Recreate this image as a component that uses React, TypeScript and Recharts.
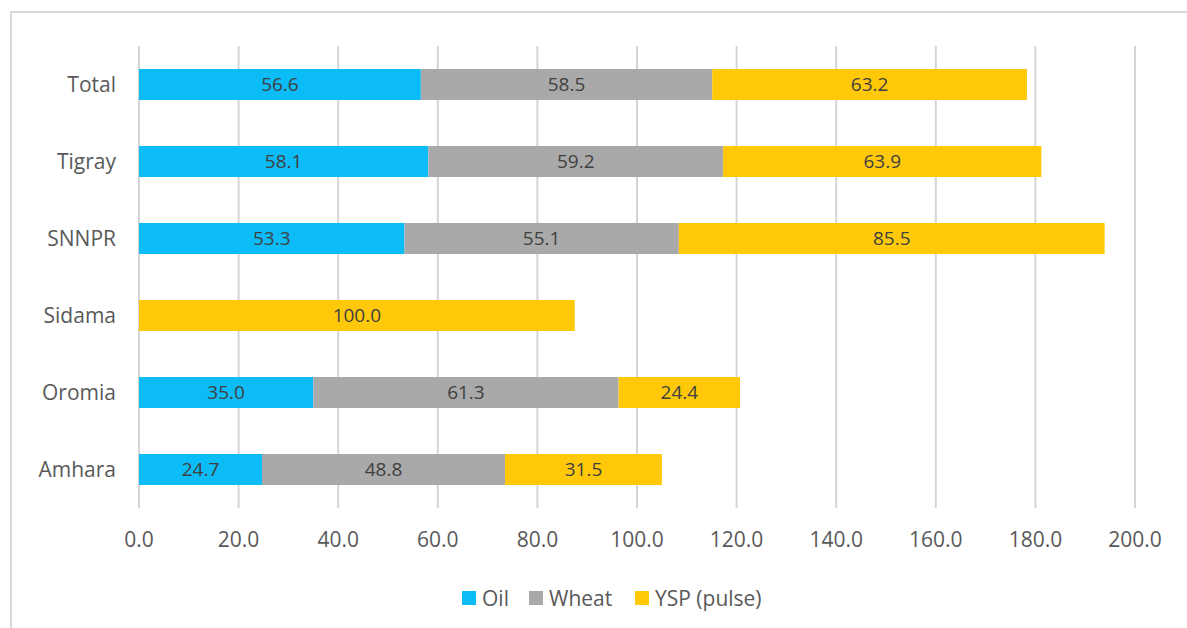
import React from 'react';
import { BarChart, Bar, XAxis, YAxis, CartesianGrid, LabelList } from 'recharts';

const regions = ['Total', 'Tigray', 'SNNPR', 'Sidama', 'Oromia', 'Amhara'];
const oilValues = [56.6, 58.1, 53.3, null, 35.0, 24.7];
const wheatValues = [58.5, 59.2, 55.1, null, 61.3, 48.8];
const yspValues = [63.2, 63.9, 85.5, 87.5, 24.4, 31.5];
// the Sidama bar is drawn shorter than the value printed on it
const yspLabels = ['63.2', '63.9', '85.5', '100.0', '24.4', '31.5'];
const xTicks = [0, 20, 40, 60, 80, 100, 120, 140, 160, 180, 200];

const series = [
  { key: 'oil', name: 'Oil', color: '#0cbcf6' },
  { key: 'wheat', name: 'Wheat', color: '#a9a9a9' },
  { key: 'ysp', name: 'YSP (pulse)', color: '#ffc90a' },
];
const legendLeft = [462, 529, 635];

const data = regions.map((region, i) => ({
  region,
  oil: oilValues[i],
  wheat: wheatValues[i],
  ysp: yspValues[i],
  oilLabel: oilValues[i] == null ? null : oilValues[i]!.toFixed(1),
  wheatLabel: wheatValues[i] == null ? null : wheatValues[i]!.toFixed(1),
  yspLabel: yspLabels[i],
}));

const font = '"Open Sans", sans-serif';

const App: React.FC = () => {
  return (
    <div style={{ position: 'absolute', left: 0, top: 0, width: 1187, height: 628, overflow: 'hidden', background: '#fff', fontFamily: font }}>
      <div style={{ position: 'absolute', left: 10, top: 11, width: 1300, height: 800, border: '2px solid #d9d9d9' }} />
      <div style={{ position: 'absolute', left: 0, top: 0 }}>
        <BarChart
          width={1187}
          height={628}
          data={data}
          layout="vertical"
          barSize={31}
          margin={{ top: 46, right: 52, left: 10, bottom: 80 }}
        >
          <CartesianGrid horizontal={false} stroke="#d4d4d4" strokeWidth={2} />
          <XAxis
            type="number"
            domain={[0, 200]}
            ticks={xTicks}
            tickFormatter={(v: number) => v.toFixed(1)}
            axisLine={false}
            tickLine={false}
            tickMargin={18}
            height={40}
            interval={0}
            tick={{ fill: '#595959', fontSize: 21, fontFamily: font }}
          />
          <YAxis
            type="category"
            dataKey="region"
            width={129}
            axisLine={false}
            tickLine={false}
            tickMargin={17}
            tick={{ fill: '#595959', fontSize: 21, fontFamily: font }}
          />
          {series.map((s) => (
            <Bar key={s.key} dataKey={s.key} name={s.name} stackId="a" fill={s.color} isAnimationActive={false}>
              <LabelList
                dataKey={`${s.key}Label`}
                position="center"
                fill="#404040"
                fontSize={19}
                fontFamily={font}
              />
            </Bar>
          ))}
        </BarChart>
      </div>
      {series.map((s, i) => (
        <div
          key={s.key}
          style={{ position: 'absolute', left: legendLeft[i], top: 584, height: 28, display: 'flex', alignItems: 'center', fontSize: 21, color: '#595959' }}
        >
          <span style={{ display: 'inline-block', width: 14, height: 14, background: s.color, marginRight: 6 }} />
          <span>{s.name}</span>
        </div>
      ))}
    </div>
  );
};

export default App;
